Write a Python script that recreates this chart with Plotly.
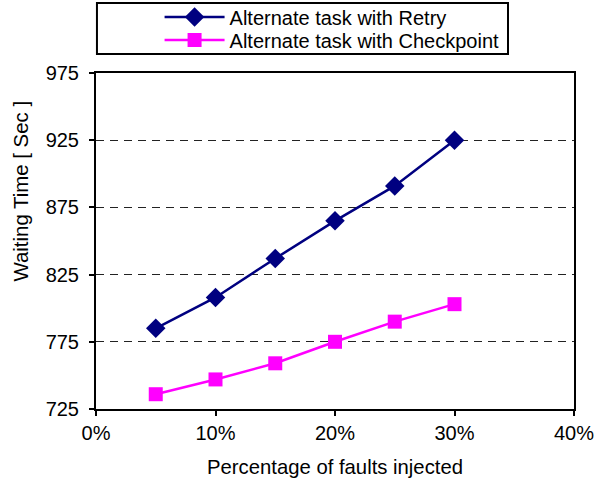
import plotly.graph_objects as go

x_pct = [5, 10, 15, 20, 25, 30]
retry = [785, 808, 837, 865, 891, 925]
checkpoint = [736, 747, 759, 775, 790, 803]
x_ticks = [0, 10, 20, 30, 40]
x_tick_labels = ["0%", "10%", "20%", "30%", "40%"]
y_ticks = [725, 775, 825, 875, 925, 975]

fig = go.Figure()
fig.add_trace(go.Scatter(
    x=x_pct, y=retry, mode="lines+markers", name="Alternate task with Retry",
    line=dict(color="#000080", width=2.5),
    marker=dict(symbol="diamond", size=15, color="#000080"),
    legend="legend",
))
fig.add_trace(go.Scatter(
    x=x_pct, y=checkpoint, mode="lines+markers", name="Alternate task with Checkpoint",
    line=dict(color="#FF00FF", width=2.5),
    marker=dict(symbol="square", size=14, color="#FF00FF"),
    legend="legend2",
))

font = "Liberation Sans, Arial, sans-serif"
leg_common = dict(
    xanchor="left", yanchor="middle",
    bgcolor="rgba(0,0,0,0)", borderwidth=0,
    font=dict(size=20, family=font, color="black"),
    itemwidth=60,
)
fig.update_layout(
    width=600, height=488,
    margin=dict(l=96, r=26, t=73, b=79, autoexpand=False),
    paper_bgcolor="white", plot_bgcolor="white",
    font=dict(family=font, size=20, color="black"),
    showlegend=True,
    legend=dict(x=0.133, y=(409 - 17) / 336, **leg_common),
    legend2=dict(x=0.133, y=(409 - 40) / 336, **leg_common),
    xaxis=dict(
        range=[0, 40], tickvals=x_ticks, ticktext=x_tick_labels,
        showgrid=False, zeroline=False,
        showline=True, linecolor="black", linewidth=2, mirror=True,
        ticks="outside", ticklen=5, tickwidth=2, tickcolor="black",
        title=dict(text="Percentage of faults injected", standoff=17, font=dict(size=20.3)),
        tickfont=dict(size=20), tickangle=0,
    ),
    yaxis=dict(
        range=[725, 975], tickvals=y_ticks,
        showgrid=True, gridcolor="#222222", griddash="8px,6px", gridwidth=1,
        zeroline=False,
        showline=True, linecolor="black", linewidth=2, mirror=True,
        ticks="outside", ticklen=5, tickwidth=2, tickcolor="black",
        tickfont=dict(size=20), ticklabelstandoff=6,
    ),
    annotations=[dict(
        text="Waiting Time [ Sec ]", textangle=-90,
        xref="paper", yref="paper",
        x=(20 - 96) / 478, y=(409 - 191.5) / 336,
        xanchor="center", yanchor="middle", showarrow=False,
        font=dict(size=20.4, family=font, color="black"),
    )],
    shapes=[dict(
        type="rect", xref="paper", yref="paper",
        x0=0.002, x1=(508 - 96) / 478, y0=(409 - 54) / 336, y1=(409 - 3) / 336,
        line=dict(color="black", width=2), fillcolor="rgba(0,0,0,0)",
        layer="below",
    )],
)

fig.write_html("out.html")
